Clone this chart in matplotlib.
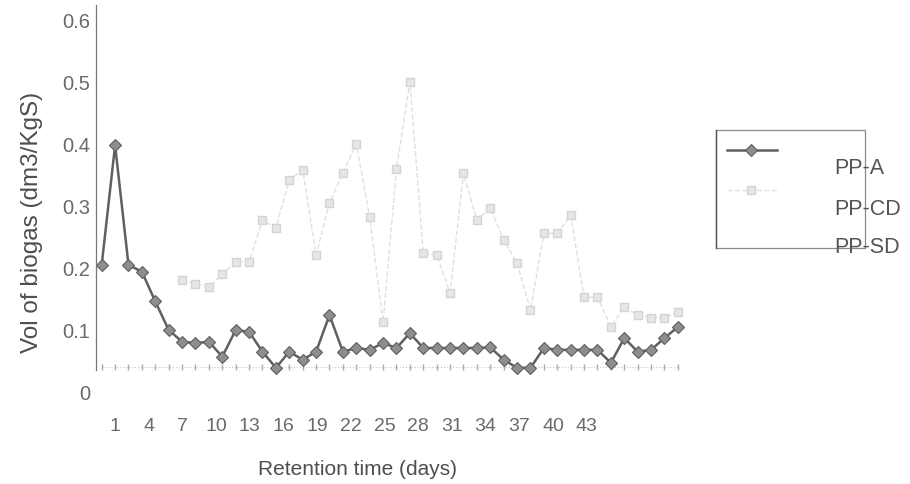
# Biogas volume vs retention time (PP-A, PP-CD, PP-SD)

import numpy as np
import matplotlib.pyplot as plt
from matplotlib.lines import Line2D
from matplotlib.patches import Rectangle

plt.rcParams['font.family'] = ['Liberation Sans', 'DejaVu Sans']

# Data (one point per day, 44 points)
pp_a = [0.205, 0.398, 0.205, 0.194, 0.146, 0.100, 0.081, 0.079, 0.081, 0.057,
        0.100, 0.097, 0.065, 0.039, 0.065, 0.052, 0.065, 0.124, 0.065, 0.071,
        0.068, 0.079, 0.071, 0.095, 0.071, 0.071, 0.071, 0.071, 0.071, 0.072,
        0.052, 0.039, 0.039, 0.071, 0.068, 0.068, 0.068, 0.068, 0.047, 0.087,
        0.065, 0.068, 0.087, 0.105]
pp_cd = [None, None, None, None, None, None, 0.180, 0.175, 0.170, 0.190,
         0.210, 0.210, 0.277, 0.265, 0.342, 0.358, 0.221, 0.305, 0.353, 0.400,
         0.282, 0.113, 0.360, 0.500, 0.224, 0.221, 0.160, 0.353, 0.277, 0.297,
         0.245, 0.208, 0.132, 0.256, 0.256, 0.285, 0.153, 0.153, 0.105, 0.137,
         0.124, 0.120, 0.120, 0.129]
pp_sd = [0.040, 0.040, 0.040, 0.040, 0.040, 0.040, 0.040, 0.040, 0.040, 0.040,
         0.040, 0.040, 0.040, 0.040, 0.040, 0.040, 0.040, 0.040, 0.040, 0.040,
         0.040, 0.040, 0.040, 0.040, 0.040, 0.040, 0.040, 0.040, 0.040, 0.040,
         0.040, 0.040, 0.040, 0.040, 0.040, 0.040, 0.040, 0.040, 0.040, 0.040,
         0.040, 0.040, 0.040, 0.040]
tick_days = [1, 4, 7, 10, 13, 16, 19, 22, 25, 28, 31, 34, 37, 40, 43]
y_ticks = [0, 0.1, 0.2, 0.3, 0.4, 0.5, 0.6]
y_tick_labels = ['0', '0.1', '0.2', '0.3', '0.4', '0.5', '0.6']
names = ['PP-A', 'PP-CD', 'PP-SD']

W, H = 910, 484
fig = plt.figure(figsize=(W / 100, H / 100), dpi=100)

# axes box in pixels of the original picture
left, right, top, bottom = 96, 700, 4.5, 392
ax = fig.add_axes([left / W, 1 - bottom / H, (right - left) / W, (bottom - top) / H])

x = np.arange(len(pp_a))
cd = np.array([np.nan if v is None else v for v in pp_cd])

ax.plot(x, pp_sd, color='#c8c8c8', lw=0.8, ls=':', marker='|', ms=4,
        mec='#ababab', mew=1.0)
ax.plot(x, cd, color='#e0e0e0', lw=1.0, ls='--', marker='s', ms=6,
        mfc='#e6e6e6', mec='#d4d4d4')
ax.plot(x, pp_a, color='#606060', lw=1.8, marker='D', ms=6.5,
        mfc='#8e8e8e', mec='#5e5e5e', mew=0.8)

ax.set_xlim(-0.425, 44.65)
ax.set_ylim(0, 0.625)

for s in ['top', 'right', 'bottom']:
    ax.spines[s].set_visible(False)
ax.spines['left'].set_color('#777777')
ax.spines['left'].set_linewidth(0.9)
ax.spines['left'].set_bounds(0.035, 0.625)

ax.set_xticks([])
ax.set_yticks(y_ticks)
ax.set_yticklabels(y_tick_labels, fontsize=14.5, color='#6a6a6a')
ax.tick_params(axis='y', length=0, pad=4)

ax.set_ylabel('Vol of biogas (dm3/KgS)', fontsize=17.5, color='#4e4e4e')
ax.yaxis.set_label_coords((43 - left) / (right - left), (bottom - 222) / (bottom - top))

# category labels of the scan sit on their own scale
ax2 = ax.twiny()
ax2.xaxis.set_ticks_position('bottom')
ax2.xaxis.set_label_position('bottom')
ax2.set_xlim(-0.692, 53.09)
ax2.set_xticks(tick_days)
ax2.set_xticklabels([str(d) for d in tick_days], fontsize=14, color='#6a6a6a')
ax2.tick_params(axis='x', length=0, pad=19)
for s in ax2.spines.values():
    s.set_visible(False)
ax2.set_xlabel('Retention time (days)', fontsize=15, color='#4e4e4e')
ax2.xaxis.set_label_coords((358 - left) / (right - left), (bottom - 460) / (bottom - top))


def fx(px):
    return px / W


def fy(py):
    return 1 - py / H


# legend box, drawn by hand as in the scan
fig.add_artist(Rectangle((fx(716), fy(248)), fx(865) - fx(716), fy(130) - fy(248),
                         transform=fig.transFigure, fill=False, ec='#8a8a8a', lw=0.9))
fig.add_artist(Line2D([fx(716), fx(716)], [fy(130), fy(248)], transform=fig.transFigure,
                      color='#555555', lw=1.0))
fig.add_artist(Line2D([fx(727), fx(777)], [fy(150.5), fy(150.5)], transform=fig.transFigure,
                      color='#606060', lw=1.8))
fig.add_artist(Line2D([fx(751)], [fy(150.5)], transform=fig.transFigure, marker='D', ms=6.5,
                      mfc='#8e8e8e', mec='#5e5e5e', mew=0.8, ls='none'))
fig.add_artist(Line2D([fx(727), fx(778)], [fy(190), fy(190)], transform=fig.transFigure,
                      color='#e0e0e0', lw=1.0, ls='--'))
fig.add_artist(Line2D([fx(751)], [fy(190)], transform=fig.transFigure, marker='s', ms=6,
                      mfc='#e6e6e6', mec='#d4d4d4', ls='none'))
for name, py in zip(names, [168, 209, 248]):
    fig.text(fx(834), fy(py), name, fontsize=15.5, color='#555555', ha='left', va='center')

fig.savefig('out.png', dpi=100)
